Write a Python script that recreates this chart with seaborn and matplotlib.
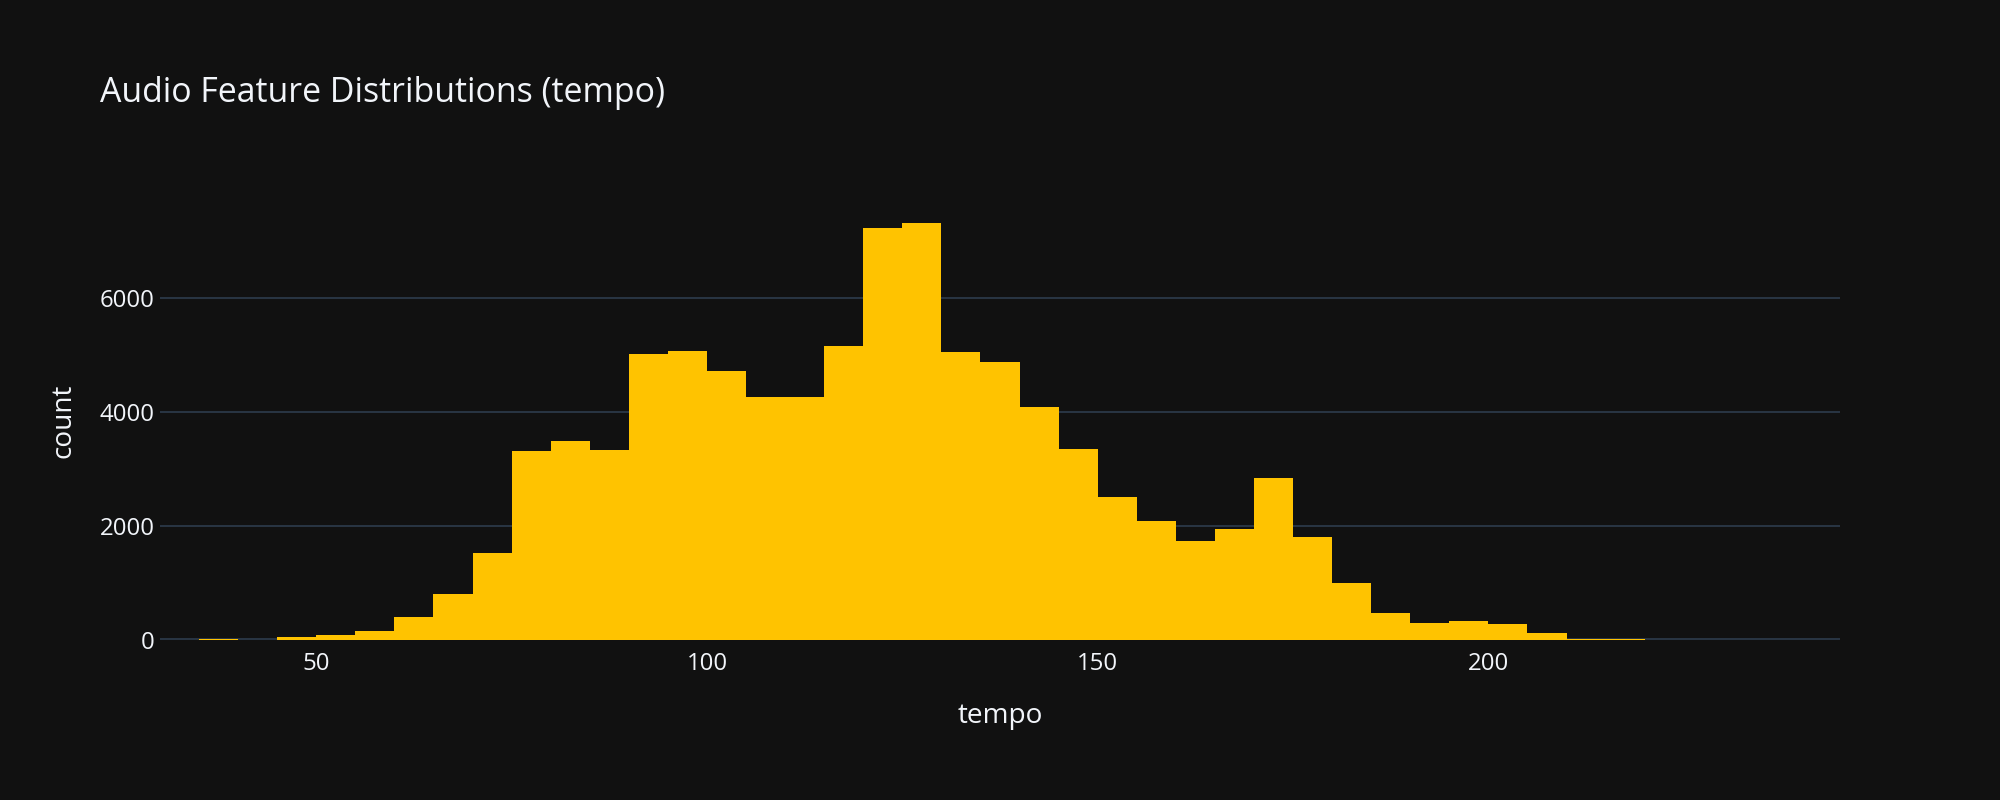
import numpy as np
import pandas as pd
import seaborn as sns
import matplotlib.pyplot as plt

# tempo histogram, bins of width 5 (left edge of each bin) and counts
bin_start = [30, 35, 40, 45, 50, 55, 60, 65, 70, 75, 80, 85, 90, 95, 100,
             105, 110, 115, 120, 125, 130, 135, 140, 145, 150, 155, 160, 165,
             170, 175, 180, 185, 190, 195, 200, 205, 210, 215, 220, 225, 230,
             235, 240]
counts = [1, 12, 2, 50, 90, 158, 405, 805, 1521, 3311, 3487, 3329, 5025, 5078,
          4727, 4270, 4275, 5154, 7236, 7324, 5060, 4885, 4095, 3352, 2515,
          2094, 1743, 1954, 2849, 1813, 1006, 480, 304, 339, 275, 118, 12, 10,
          2, 1, 1, 0, 1]
x_ticks = [50, 100, 150, 200]
y_ticks = [0, 2000, 4000, 6000]

df = pd.DataFrame({'tempo': bin_start, 'count': counts})

bg = '#111111'
grid = '#283442'
bar_color = '#FFC300'
text_color = '#f2f5fa'

sns.set_theme(style='dark')
plt.rcParams['font.family'] = ['Open Sans', 'DejaVu Sans']

fig = plt.figure(figsize=(20, 8), dpi=100, facecolor=bg)
ax = fig.add_axes([0.08, 0.2, 0.84, 0.5475])
ax.set_facecolor(bg)

sns.histplot(data=df, x='tempo', weights='count', binwidth=5, binrange=(30, 245),
             color=bar_color, alpha=1, linewidth=0, ax=ax, zorder=3)

ax.set_xlim(30, 245)
ax.set_ylim(0, 7690)
ax.set_xticks(x_ticks)
ax.set_yticks(y_ticks)
ax.set_yticklabels([str(v) for v in y_ticks])

# gridlines and zero line under the bars
for v in y_ticks[1:]:
    ax.axhline(v, color=grid, lw=1.44, zorder=1)
ax.axhline(0, color=grid, lw=2.9, zorder=2)

for s in ax.spines.values():
    s.set_visible(False)
ax.tick_params(axis='both', colors=text_color, labelsize=17.3, length=0)
ax.tick_params(axis='x', pad=9)
ax.tick_params(axis='y', pad=4)

ax.set_xlabel('tempo', fontsize=20.2, color=text_color, labelpad=18)
ax.set_ylabel('count', fontsize=20.2, color=text_color, labelpad=16)

fig.text(0.05, 0.872, 'Audio Feature Distributions (tempo)', fontsize=24.4,
         color=text_color, ha='left', va='baseline')

plt.savefig('out.png', dpi=100, facecolor=bg)
